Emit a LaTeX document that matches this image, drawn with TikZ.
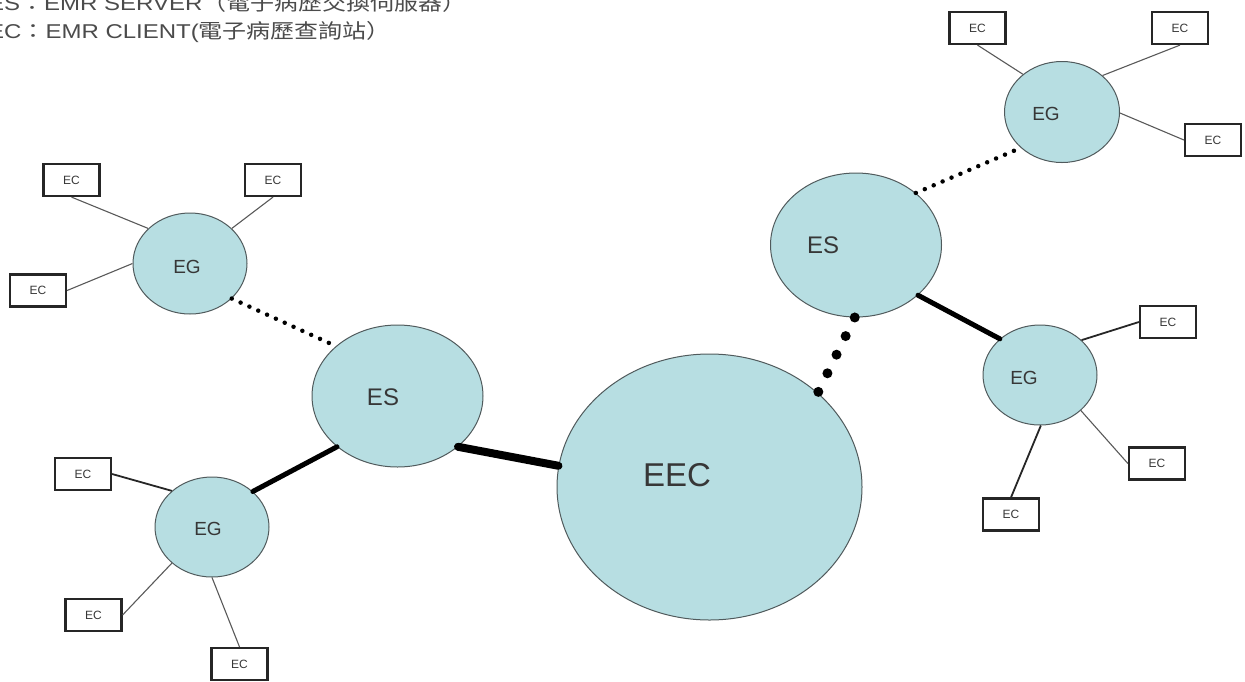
\documentclass[tikz,border=0pt]{standalone}
\usepackage{fontspec}
\usepackage{graphicx}
\setmainfont{Liberation Sans}
\newfontfamily\cjk{Noto Sans CJK TC}
\usetikzlibrary{shapes.geometric}

\definecolor{cellfill}{RGB}{183,222,226}
\definecolor{rim}{RGB}{80,90,92}
\definecolor{ink}{RGB}{55,55,55}
\definecolor{legendink}{RGB}{75,75,75}

\tikzset{
  hub/.style={ellipse, draw=rim, line width=1pt, fill=cellfill, inner sep=0pt},
  hubtext/.style={inner sep=0pt, text=ink},
  client/.style={draw=black!85, line width=2.2pt, minimum width=56pt, minimum height=32pt,
    inner sep=0pt, font=\fontsize{12}{12}\selectfont, text=ink},
  tie/.style={draw=black!65, line width=1.1pt},
  tiebold/.style={draw=black!85, line width=1.8pt},
  trunk/.style={line width=5pt, line cap=round},
  mainline/.style={line width=8pt, line cap=round},
  finedots/.style={line width=4.5pt, line cap=round, dash pattern=on 0pt off 9.7pt},
  bigdots/.style={line width=10pt, line cap=round, dash pattern=on 0pt off 20.7pt},
  legend/.style={anchor=base west, inner sep=0pt, text=legendink},
}

\newcommand{\legendline}[1]{\scalebox{1.2}[1]{\fontsize{20}{20}\selectfont #1}}

\begin{document}
\begin{tikzpicture}[x=1pt,y=-1pt]
\clip (0,0) rectangle (1245,681);
\useasboundingbox (0,0) rectangle (1245,681);

% legend
\node[legend] (legA) at (-12,10) {\legendline{ES{\cjk ：}EMR SERVER{\cjk （電子病歷交換伺服器）}}};
\node[legend] (legB) at (-12,38) {\legendline{EC{\cjk ：}EMR CLIENT({\cjk 電子病歷查詢站）}}};

% central exchange centre
\node[hub, minimum width=305pt, minimum height=266pt] (eec) at (709.5,487) {};
\node[hubtext, font=\fontsize{33}{33}\selectfont] (eecT) at (677,475) {EEC};

% servers
\node[hub, minimum width=171pt, minimum height=142pt] (esL) at (397.5,396) {};
\node[hubtext, font=\fontsize{24}{24}\selectfont] (esLT) at (383,397) {ES};
\node[hub, minimum width=171pt, minimum height=144pt] (esR) at (856,245) {};
\node[hubtext, font=\fontsize{24}{24}\selectfont] (esRT) at (823,245) {ES};

% gateways
\node[hub, minimum width=114pt, minimum height=101pt] (gTL) at (190,263.5) {};
\node[hubtext, font=\fontsize{19}{19}\selectfont] (gTLT) at (187,267) {EG};
\node[hub, minimum width=114pt, minimum height=100pt] (gBL) at (212,527) {};
\node[hubtext, font=\fontsize{19}{19}\selectfont] (gBLT) at (208,529) {EG};
\node[hub, minimum width=115pt, minimum height=101pt] (gTR) at (1062,112) {};
\node[hubtext, font=\fontsize{19}{19}\selectfont] (gTRT) at (1046,114) {EG};
\node[hub, minimum width=114pt, minimum height=100pt] (gBR) at (1040,375) {};
\node[hubtext, font=\fontsize{19}{19}\selectfont] (gBRT) at (1024,378) {EG};

% clients
\node[client] (c1) at (71.5,180) {EC};
\node[client] (c2) at (273,180) {EC};
\node[client] (c3) at (38,290.5) {EC};
\node[client] (c4) at (83,474) {EC};
\node[client] (c5) at (93.5,615) {EC};
\node[client] (c6) at (239.5,664) {EC};
\node[client] (c7) at (977.5,28) {EC};
\node[client] (c8) at (1180,28) {EC};
\node[client] (c9) at (1213,140) {EC};
\node[client] (c10) at (1168,322) {EC};
\node[client] (c11) at (1157,463.5) {EC};
\node[client] (c12) at (1011,514.5) {EC};

% client links
\draw[tie] (c1.south) -- (gTL.140.6);
\draw[tie] (c2.south) -- (gTL.40.2);
\draw[tie] (c3.east) -- (gTL.180.5);
\draw[tiebold] (c4.east) -- (gBL.138.1);
\draw[tie] (c5.east) -- (gBL.222);
\draw[tie] (c6.north) -- (gBL.270);
\draw[tie] (c7.south) -- (gTR.136.5);
\draw[tie] (c8.south) -- (gTR.42);
\draw[tie] (c9.west) -- (gTR.-1);
\draw[tiebold] (c10.west) -- (gBR.40.4);
\draw[tie] (c11.west) -- (gBR.-41.4);
\draw[tiebold] (c12.north) -- (gBR.271);

% backbone links
\draw[mainline] (esL.-40.9) -- (eec.172.1);
\draw[trunk] (esL.220.6) -- (gBL.41.9);
\draw[trunk] (esR.-39.6) -- (gBR.138.2);
\draw[finedots] (gTL.-40.8) -- (esL.141.1);
\draw[finedots] (esR.41.3) -- (gTR.221.2);
\draw[bigdots] (esR.269.2) -- (eec.41.1);
\end{tikzpicture}
\end{document}
